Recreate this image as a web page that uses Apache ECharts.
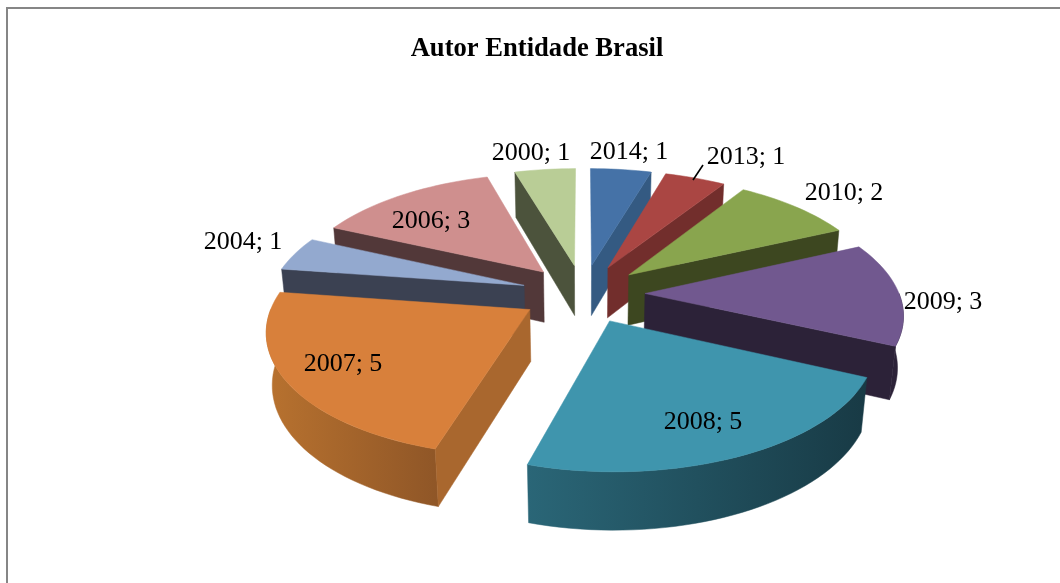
<!DOCTYPE html>
<html>
<head>
<meta charset="utf-8">
<style>
  html, body { margin: 0; padding: 0; background: #fff; }
  #chart { width: 1060px; height: 583px; }
</style>
<script src="https://cdn.jsdelivr.net/npm/echarts@6/dist/echarts.min.js"></script>
</head>
<body>
<div id="chart"></div>
<script>
const years = ["2014", "2013", "2010", "2009", "2008", "2007", "2004", "2006", "2000"];
const counts = [1, 1, 2, 3, 5, 5, 1, 3, 1];

const topColors = ["#4572a7", "#aa4643", "#89a54e", "#71588f", "#3f95ad", "#d8803b", "#93a9cf", "#cf8f8e", "#b9cd96"];
const wallColors = ["#345a82", "#722e2c", "#3d4720", "#2c2238", "#1a3d49", "#a9672e", "#3b4152", "#523839", "#4c533c"];
const rimLeft = ["#345a82", "#722e2c", "#3d4720", "#2c2238", "#2a6677", "#b8722f", "#3b4152", "#523839", "#4c533c"];
const rimRight = ["#345a82", "#722e2c", "#3d4720", "#2c2238", "#183a45", "#8f5627", "#3b4152", "#523839", "#4c533c"];
// label centres, px
const labelAt = [[629, 152], [746, 157], [844, 193], [943, 302], [703, 422], [343, 364], [243, 242], [431, 221], [531, 153]];

// 3d pie camera
const cx = 583, cy = 293.5;
const radius = 254, explode = 62, thick = 59;
const tilt = 28 * Math.PI / 180, camDist = 1500;
const sinT = Math.sin(tilt), cosT = Math.cos(tilt);
const total = counts.reduce((a, b) => a + b, 0);
const rad = Math.PI / 180;

function project(x, z, h) {
  const sy = z * sinT - h * cosT;
  const depth = z * cosT + h * sinT;
  const s = camDist / (camDist - depth);
  return [cx + x * s, cy + sy * s];
}

// angle is clockwise from 12 o'clock
function rimPoint(ox, oz, deg, h) {
  return project(ox + radius * Math.sin(deg * rad), oz - radius * Math.cos(deg * rad), h);
}

function arc(ox, oz, from, to, h) {
  const pts = [];
  const n = Math.max(2, Math.ceil((to - from) / 2));
  for (let i = 0; i <= n; i++) {
    pts.push(rimPoint(ox, oz, from + (to - from) * i / n, h));
  }
  return pts;
}

function renderSlice(params, api) {
  const i = params.dataIndex;
  let before = 0;
  for (let k = 0; k < i; k++) before += counts[k];
  const a = before / total * 360;
  const b = a + api.value(0) / total * 360;
  const mid = (a + b) / 2;
  const ox = explode * Math.sin(mid * rad);
  const oz = -explode * Math.cos(mid * rad);
  const base = Math.round((-Math.cos(mid * rad) + 1) * 100) * 10;
  const children = [];

  // outer wall, only the part facing the viewer
  const from = Math.max(a, 90), to = Math.min(b, 270);
  if (to > from) {
    const rimFill = { type: "linear", x: 0, y: 0, x2: 1, y2: 0, colorStops: [
      { offset: 0, color: rimLeft[i] }, { offset: 1, color: rimRight[i] },
    ] };
    children.push({
      type: "polygon",
      z2: base + children.length,
      shape: { points: arc(ox, oz, from, to, 0).concat(arc(ox, oz, from, to, -thick).reverse()) },
      style: { fill: rimFill, stroke: rimFill, lineWidth: 0.5 },
    });
  }

  function wall(deg) {
    children.push({
      type: "polygon",
      z2: base + children.length,
      shape: { points: [project(ox, oz, 0), rimPoint(ox, oz, deg, 0), rimPoint(ox, oz, deg, -thick), project(ox, oz, -thick)] },
      style: { fill: wallColors[i], stroke: wallColors[i], lineWidth: 0.5 },
    });
  }
  if (Math.sin(a * rad) < 0) wall(a);
  if (Math.sin(b * rad) > 0) wall(b);

  children.push({
    type: "polygon",
    z2: base + children.length,
    shape: { points: [project(ox, oz, 0)].concat(arc(ox, oz, a, b, 0)) },
    style: { fill: topColors[i], stroke: topColors[i], lineWidth: 0.5 },
  });

  children.push({
    type: "text",
    z2: 5000,
    style: {
      text: years[i] + "; " + api.value(0),
      x: labelAt[i][0], y: labelAt[i][1],
      align: "center", verticalAlign: "middle",
      fill: "#000", font: '26px "Liberation Serif"',
    },
  });
  return { type: "group", children };
}

const chart = echarts.init(document.getElementById("chart"), null, { renderer: "canvas" });
chart.setOption({
  animation: false,
  backgroundColor: "#fff",
  title: {
    text: "Autor Entidade Brasil",
    left: 532, top: 31, textAlign: "center",
    textStyle: { fontFamily: "Liberation Serif", fontSize: 26.6, fontWeight: "bold", color: "#000" },
  },
  graphic: [
    { type: "polyline", shape: { points: [[7, 583], [7, 8], [1060, 8]] }, style: { stroke: "#868686", lineWidth: 2, fill: null } },
    { type: "line", shape: { x1: 693, y1: 180, x2: 703, y2: 165 }, style: { stroke: "#000", lineWidth: 1.6 }, z: 10 },
  ],
  series: [{
    type: "custom",
    coordinateSystem: "none",
    renderItem: renderSlice,
    data: counts,
  }],
});
</script>
</body>
</html>
